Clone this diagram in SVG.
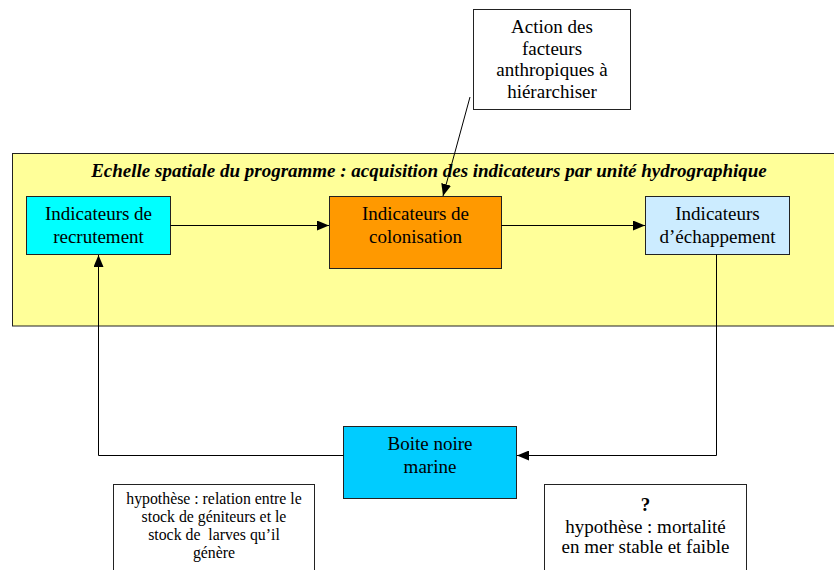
<svg xmlns="http://www.w3.org/2000/svg" width="834" height="570" viewBox="0 0 834 570">
<style>
text{font-family:"Liberation Serif","Times New Roman",serif;fill:#000;text-anchor:middle}
.n{font-size:19px}
.s{font-size:15.8px}
.t{font-size:19px;font-weight:bold;font-style:italic}
.b{stroke:#222;stroke-width:1}
.c{fill:none;stroke:#000;stroke-width:1}
</style>
<defs>
<marker id="ah" markerWidth="12" markerHeight="10" refX="12" refY="5" orient="auto" markerUnits="userSpaceOnUse">
<path d="M0,0 L12,5 L0,10 Z" fill="#000"/>
</marker>
</defs>
<rect width="834" height="570" fill="#fff"/>
<g id="container">
<rect class="b" x="12.5" y="153.5" width="830" height="172.5" fill="#FFFF99"/>
<text class="t" x="429" y="177">Echelle spatiale du programme : acquisition des indicateurs par unité hydrographique</text>
</g>
<g id="action">
<rect class="b" x="473.5" y="9.5" width="157" height="100" fill="#fff"/>
<text class="n" x="552" y="33">Action des</text>
<text class="n" x="552" y="54.5">facteurs</text>
<text class="n" x="552" y="76">anthropiques à</text>
<text class="n" x="552" y="97.5">hiérarchiser</text>
</g>
<g id="recrutement">
<rect class="b" x="26.5" y="196.5" width="144" height="58" fill="#00FFFF"/>
<text class="n" x="98.5" y="220">Indicateurs de</text>
<text class="n" x="98.5" y="243">recrutement</text>
</g>
<g id="colonisation">
<rect class="b" x="329.5" y="196.5" width="172" height="72" fill="#FF9900"/>
<text class="n" x="415.5" y="220">Indicateurs de</text>
<text class="n" x="415.5" y="243">colonisation</text>
</g>
<g id="echappement">
<rect class="b" x="645.5" y="196.5" width="144" height="58" fill="#CCECFF"/>
<text class="n" x="717.5" y="220">Indicateurs</text>
<text class="n" x="717.5" y="243">d’échappement</text>
</g>
<g id="boite">
<rect class="b" x="343.5" y="426.5" width="173" height="72" fill="#00CCFF"/>
<text class="n" x="430" y="450">Boite noire</text>
<text class="n" x="430" y="473">marine</text>
</g>
<g id="hyp1">
<rect class="b" x="113.5" y="484.5" width="201" height="100" fill="#fff"/>
<text class="s" x="214" y="504">hypothèse : relation entre le</text>
<text class="s" x="214" y="522">stock de géniteurs et le</text>
<text class="s" x="214" y="540" xml:space="preserve">stock de  larves qu’il</text>
<text class="s" x="214" y="558">génère</text>
</g>
<g id="hyp2">
<rect class="b" x="544.5" y="484.5" width="202" height="100" fill="#fff"/>
<text class="n" x="645.5" y="511" font-weight="bold">?</text>
<text class="n" x="645.5" y="533">hypothèse : mortalité</text>
<text class="n" x="645.5" y="553">en mer stable et faible</text>
</g>
<g id="connectors">
<line class="c" x1="170.5" y1="225.5" x2="329" y2="225.5" marker-end="url(#ah)"/>
<line class="c" x1="501.5" y1="225.5" x2="645" y2="225.5" marker-end="url(#ah)"/>
<line class="c" x1="470" y1="97" x2="443" y2="196" marker-end="url(#ah)"/>
<polyline class="c" points="716.5,254.5 716.5,455.5 517,455.5" marker-end="url(#ah)"/>
<polyline class="c" points="343.5,455.5 98.5,455.5 98.5,255" marker-end="url(#ah)"/>
</g>
</svg>
